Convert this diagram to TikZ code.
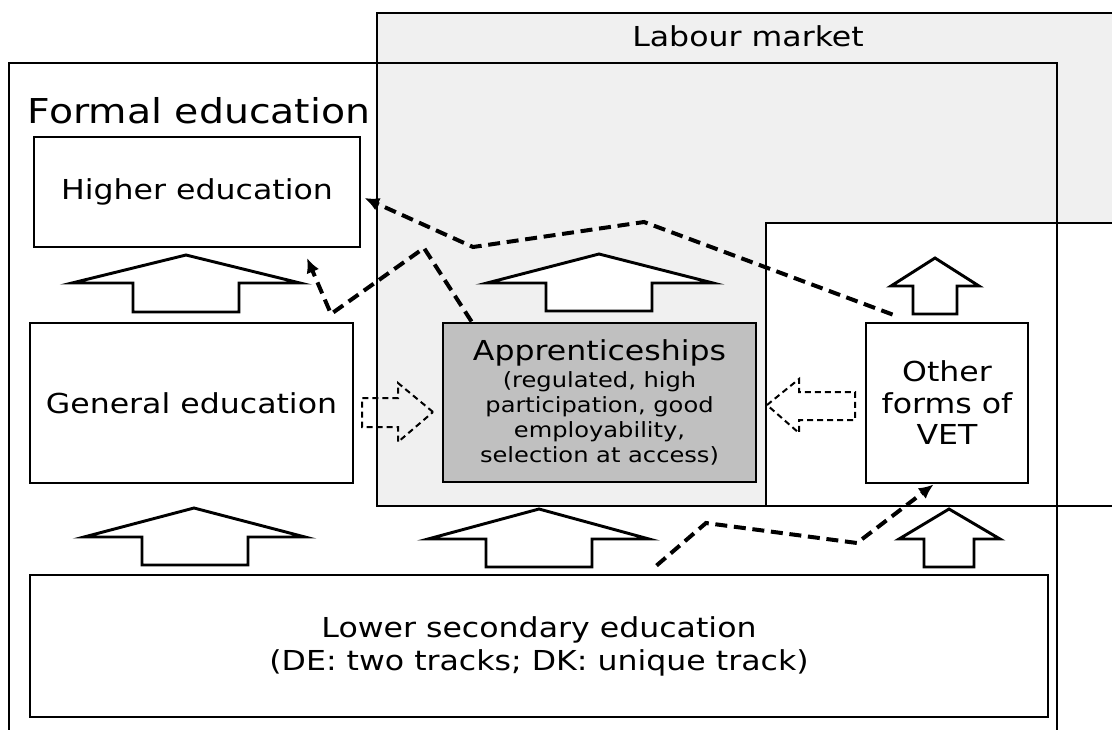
\documentclass[tikz,border=0pt]{standalone}
\usepackage{fontspec}
\setmainfont{DejaVu Sans}[FakeStretch=1.15]
\usetikzlibrary{arrows.meta,calc}

\definecolor{labgray}{RGB}{240,240,240}
\definecolor{appgray}{RGB}{192,192,192}

\newcommand{\boxfont}{\fontsize{20.6}{23.6}\selectfont}
\newcommand{\notefont}{\fontsize{15.75}{18.75}\selectfont}

\tikzset{every picture/.style={line width=2.2pt},
	box/.style={draw, rectangle, inner sep=0pt, align=center, font=\boxfont},
	blockup/.style={draw, fill=white},
	flowhint/.style={line width=1.5pt, dash pattern=on 4.5pt off 3pt},
	route/.style={line width=3pt, dash pattern=on 9pt off 5pt, -{Latex[length=11pt,width=10pt]}}
}

\begin{document}
\begin{tikzpicture}[x=0.75pt,y=0.75pt,yscale=-1]
	\path [use as bounding box, fill=white] (0,0) rectangle (1112,729);
	\clip (0,0) rectangle (1112,729);

	%Shape: Rectangle [labour market]
	\draw [fill=labgray] (377,13) rectangle (1125,506) ;
	%Shape: Rectangle [other VET area]
	\draw [fill=white] (766,223) rectangle (1125,506) ;
	%Shape: Rectangle [formal education]
	\draw (9,63) rectangle (1057,745) ;

	% Text Node
	\draw (22,123) node [anchor=base west, font=\fontsize{25.7}{30}\selectfont] (formal) {Formal education};
	% Text Node
	\draw (748,46) node [anchor=base, font=\boxfont] (labour) {Labour market};

	% Boxes
	\node [box, minimum width=244.5pt, minimum height=82.5pt] (higher) at (197,192) {Higher education};
	\node [box, minimum width=242.25pt, minimum height=120pt] (general) at (191.5,403) {General education};
	\node [box, fill=appgray, minimum width=234.75pt, minimum height=119.25pt, font=\notefont] (appr) at (599.5,402.5)
		{{\boxfont Apprenticeships}\\[1pt](regulated, high\\participation, good\\employability,\\selection at access)};
	\node [box, minimum width=121.5pt, minimum height=120pt] (vet) at (947,403) {Other\\forms of\\VET};
	\node [box, minimum width=763.5pt, minimum height=106.5pt, font=\fontsize{20.6}{24.75}\selectfont] (lower) at (539,646)
		{Lower secondary education\\(DE: two tracks; DK: unique track)};

	%Shape: Up Arrows
	\draw [blockup] (186,255) -- (300,283) -- (239,283) -- (239,312) -- (133,312) -- (133,283) -- (72,283) -- cycle ;
	\draw [blockup] (599,254) -- (713,283) -- (652,283) -- (652,311) -- (546,311) -- (546,283) -- (487,283) -- cycle ;
	\draw [blockup] (935,258) -- (979,286) -- (957,286) -- (957,314) -- (913,314) -- (913,286) -- (891,286) -- cycle ;
	\draw [blockup] (194,508) -- (305,537) -- (248,537) -- (248,565) -- (142,565) -- (142,537) -- (84,537) -- cycle ;
	\draw [blockup] (539,509) -- (649,539) -- (592,539) -- (592,567) -- (486,567) -- (486,539) -- (428,539) -- cycle ;
	\draw [blockup] (949,509) -- (1000,539) -- (974,539) -- (974,567) -- (924,567) -- (924,539) -- (899,539) -- cycle ;

	%Shape: Dashed Right/Left Arrows
	\draw [flowhint] (433,412) -- (398,383) -- (398,398) -- (362,398) -- (362,427) -- (398,427) -- (398,442) -- cycle ;
	\draw [flowhint] (767,405) -- (799,379) -- (799,392) -- (855,392) -- (855,420) -- (799,420) -- (799,433) -- cycle ;

	%Dashed routes
	\coordinate (backup) at (307,258);
	\draw [route] ($(appr.north west)+(30,0)$) -- (424,248) -- (331,314) -- (backup) ;
	\draw [route] ($(vet.north west)+(28,-7)$) -- (644,222) -- (473,247) -- ($(higher.east)+(3,6)$) ;
	\draw [route] ($(lower.north west)+(628,-8)$) -- (706,523) -- (857,543) -- ($(vet.south west)+(69,0)$) ;

\end{tikzpicture}
\end{document}
